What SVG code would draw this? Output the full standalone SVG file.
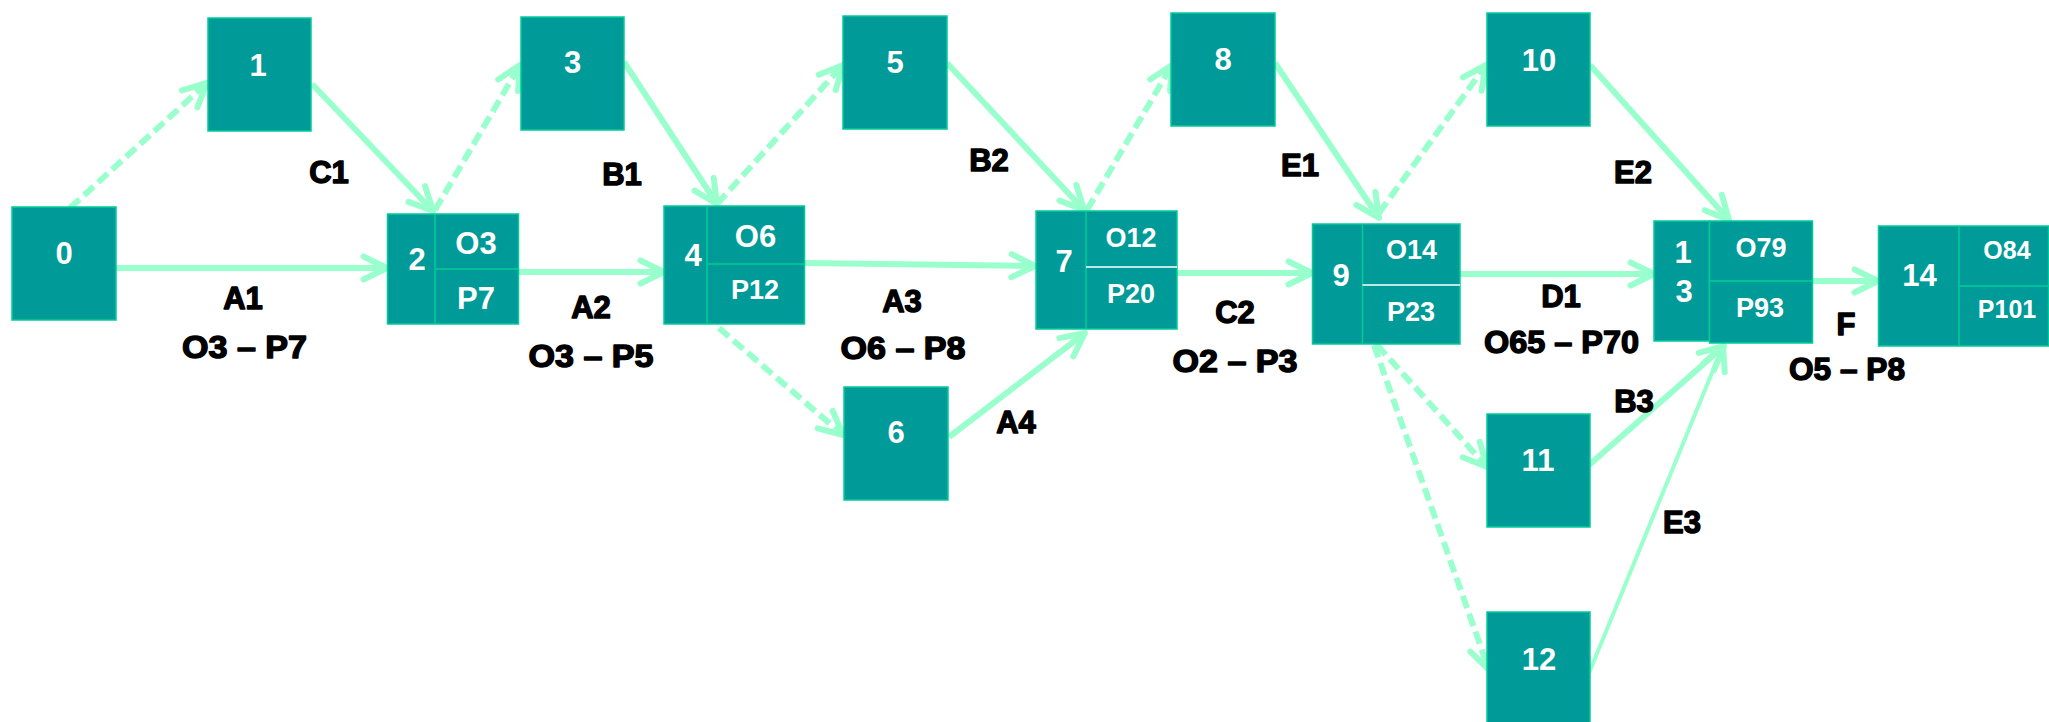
<svg xmlns="http://www.w3.org/2000/svg" width="2049" height="722" viewBox="0 0 2049 722">
<style>
.box{fill:#009a98;stroke:#00cc99;stroke-width:1.5}
.div{stroke:#00cc99;stroke-width:1.5}
.divw{stroke:#ffffff;stroke-width:1.5}
.nt{font-family:"Liberation Sans",Arial,sans-serif;font-weight:bold;fill:#ffffff;text-anchor:middle}
.n{font-size:31px}
.s{font-size:27px}
.xs{font-size:25px}
.lb{font-family:"Liberation Sans",Arial,sans-serif;font-weight:bold;font-size:31px;fill:#000000;stroke:#000000;stroke-width:1.4;stroke-linejoin:round;text-anchor:middle}
.c{fill:none;stroke:#99ffcc;stroke-width:6;marker-end:url(#ah)}
.d{stroke-dasharray:13 6}
</style>
<defs>
<marker id="ah" markerUnits="userSpaceOnUse" viewBox="-30 -17 34 34" markerWidth="34" markerHeight="34" refX="0" refY="0" orient="auto">
<path d="M-23.5,-11.5 L0,0 L-23.5,11.5" fill="none" stroke="#99ffcc" stroke-width="6" stroke-linecap="round" stroke-linejoin="round"/>
</marker>
</defs>
<g id="connectors">
<line class="c d" x1="70" y1="208" x2="207" y2="83"/>
<line class="c" x1="116" y1="268" x2="387" y2="268"/>
<line class="c" x1="312" y1="84" x2="433" y2="211"/>
<line class="c d" x1="435" y1="210" x2="520" y2="65"/>
<line class="c" x1="519" y1="272" x2="664" y2="272"/>
<line class="c" x1="624" y1="62" x2="717" y2="204"/>
<line class="c d" x1="717" y1="204" x2="843" y2="65"/>
<line class="c" x1="805" y1="263" x2="1035" y2="266"/>
<line class="c d" x1="719" y1="328" x2="843" y2="435"/>
<line class="c" x1="947" y1="63" x2="1084" y2="210"/>
<line class="c" x1="949" y1="437" x2="1085" y2="333"/>
<line class="c d" x1="1087" y1="210" x2="1172" y2="65"/>
<line class="c" x1="1177" y1="273" x2="1312" y2="273"/>
<line class="c" x1="1275" y1="63" x2="1379" y2="218"/>
<line class="c d" x1="1379" y1="213" x2="1486" y2="65"/>
<line class="c" x1="1460" y1="274" x2="1654" y2="274"/>
<line class="c d" x1="1377" y1="345" x2="1487" y2="467"/>
<line class="c d" x1="1374" y1="345" x2="1489" y2="670"/>
<line class="c" x1="1590" y1="65" x2="1729" y2="220"/>
<line class="c" x1="1589" y1="465" x2="1724" y2="346"/>
<line class="c" x1="1589" y1="673" x2="1723" y2="346" style="stroke-width:4"/>
<line class="c" x1="1813" y1="281" x2="1878" y2="281"/>
</g>
<g id="node0"><rect class="box" x="12" y="207" width="104" height="113"/><text class="nt n" x="64" y="264">0</text></g>
<g id="node1"><rect class="box" x="208" y="18" width="103" height="113"/><text class="nt n" x="258" y="76">1</text></g>
<g id="node2"><rect class="box" x="387.5" y="214" width="131" height="110"/><line class="div" x1="435" y1="214" x2="435" y2="324"/><line class="div" x1="435" y1="269" x2="518.5" y2="269"/><text class="nt n" x="417" y="270">2</text><text class="nt n" x="476" y="254">O3</text><text class="nt n" x="476" y="309">P7</text></g>
<g id="node3"><rect class="box" x="521" y="17" width="103" height="113"/><text class="nt n" x="572.5" y="73">3</text></g>
<g id="node4"><rect class="box" x="664" y="206" width="140.5" height="118"/><line class="div" x1="707" y1="206" x2="707" y2="324"/><line class="div" x1="707" y1="264" x2="804.5" y2="264"/><text class="nt n" x="693" y="266">4</text><text class="nt n" x="755.5" y="247">O6</text><text class="nt s" x="755" y="299">P12</text></g>
<g id="node5"><rect class="box" x="843" y="16" width="104" height="113"/><text class="nt n" x="895" y="73">5</text></g>
<g id="node6"><rect class="box" x="844" y="387" width="104" height="113"/><text class="nt n" x="896" y="443">6</text></g>
<g id="node7"><rect class="box" x="1036" y="211" width="141" height="118"/><line class="div" x1="1086" y1="211" x2="1086" y2="329"/><line class="divw" x1="1086" y1="267" x2="1177" y2="267"/><text class="nt n" x="1064" y="272">7</text><text class="nt s" x="1131" y="247">O12</text><text class="nt s" x="1131" y="303">P20</text></g>
<g id="node8"><rect class="box" x="1171" y="13" width="104" height="113"/><text class="nt n" x="1223" y="70">8</text></g>
<g id="node9"><rect class="box" x="1312.5" y="224" width="147.5" height="120"/><line class="div" x1="1362.5" y1="224" x2="1362.5" y2="344"/><line class="divw" x1="1362.5" y1="285" x2="1460" y2="285"/><text class="nt n" x="1341" y="286">9</text><text class="nt s" x="1411.5" y="259">O14</text><text class="nt s" x="1411" y="321">P23</text></g>
<g id="node10"><rect class="box" x="1487" y="13" width="103" height="113"/><text class="nt n" x="1539" y="71">10</text></g>
<g id="node11"><rect class="box" x="1487" y="414" width="103" height="113"/><text class="nt n" x="1538" y="471">11</text></g>
<g id="node12"><rect class="box" x="1487" y="612" width="103" height="113"/><text class="nt n" x="1539" y="670">12</text></g>
<g id="node13"><rect class="box" x="1654" y="221" width="55.5" height="120"/><rect class="box" x="1709.5" y="221" width="103" height="122"/><line class="div" x1="1709.5" y1="281" x2="1812.5" y2="281"/><text class="nt n" x="1683" y="263">1</text><text class="nt n" x="1684" y="302">3</text><text class="nt s" x="1761" y="257">O79</text><text class="nt s" x="1760" y="317">P93</text></g>
<g id="node14"><rect class="box" x="1878.5" y="226" width="170" height="120"/><line class="div" x1="1959" y1="226" x2="1959" y2="346"/><line class="div" x1="1959" y1="286" x2="2048.5" y2="286"/><text class="nt n" x="1919.5" y="286">14</text><text class="nt xs" x="2007" y="259">O84</text><text class="nt xs" x="2007" y="318">P101</text></g>
<g id="labels">
<text class="lb" x="329" y="183">C1</text>
<text class="lb" x="622" y="185">B1</text>
<text class="lb" x="243" y="309">A1</text>
<text class="lb" x="244.5" y="358" textLength="125" lengthAdjust="spacingAndGlyphs">O3 – P7</text>
<text class="lb" x="591" y="318">A2</text>
<text class="lb" x="591" y="367" textLength="125" lengthAdjust="spacingAndGlyphs">O3 – P5</text>
<text class="lb" x="989" y="171">B2</text>
<text class="lb" x="1300" y="176">E1</text>
<text class="lb" x="902" y="312">A3</text>
<text class="lb" x="903" y="359" textLength="125" lengthAdjust="spacingAndGlyphs">O6 – P8</text>
<text class="lb" x="1235" y="323">C2</text>
<text class="lb" x="1235" y="372" textLength="125" lengthAdjust="spacingAndGlyphs">O2 – P3</text>
<text class="lb" x="1016" y="433">A4</text>
<text class="lb" x="1633" y="183">E2</text>
<text class="lb" x="1561" y="307">D1</text>
<text class="lb" x="1561.5" y="353" textLength="155" lengthAdjust="spacingAndGlyphs">O65 – P70</text>
<text class="lb" x="1846" y="335">F</text>
<text class="lb" x="1847" y="380" textLength="116" lengthAdjust="spacingAndGlyphs">O5 – P8</text>
<text class="lb" x="1634" y="412">B3</text>
<text class="lb" x="1682" y="533">E3</text>
</g>
</svg>
